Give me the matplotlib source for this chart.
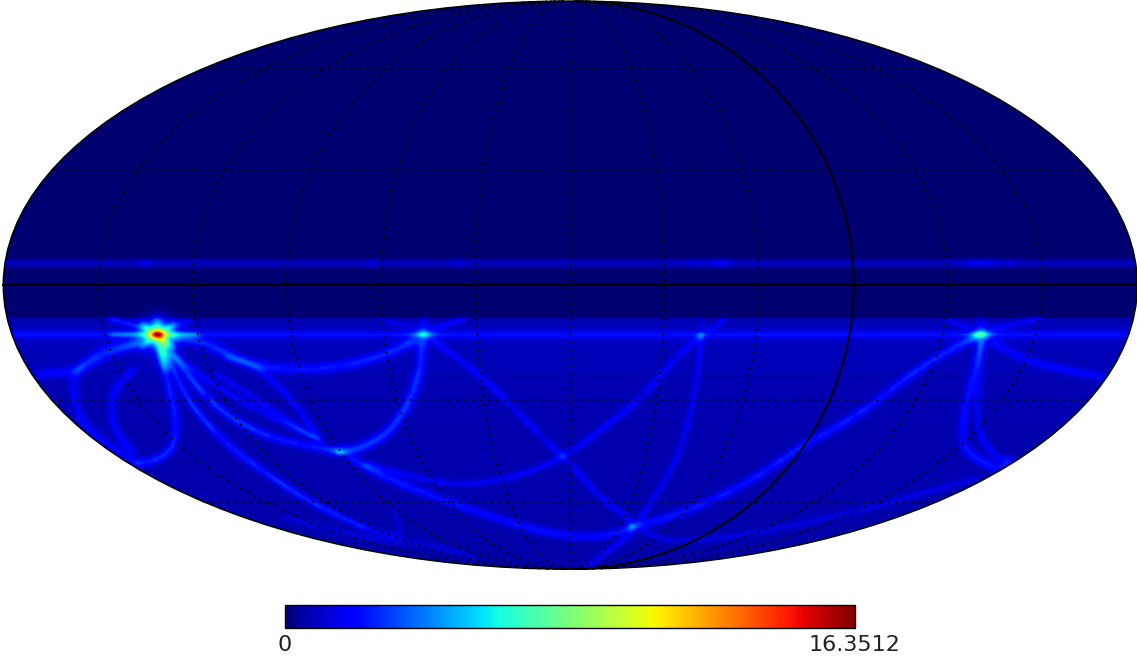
import numpy as np
import matplotlib
matplotlib.use("Agg")
import matplotlib.pyplot as plt
from matplotlib.patches import Ellipse
from matplotlib.colors import Normalize, LinearSegmentedColormap
from matplotlib.cm import ScalarMappable

VMIN = 0.0
VMAX = 16.3512
CBAR_LABELS = ["0", "16.3512"]

# map geometry in reference pixels
CX, CY, RX, RY = 569.8, 284.6, 567.0, 284.0

# row profile: image row, background value
ROW_Y = [0, 257, 259, 263, 266, 269, 317, 318, 326, 330, 334, 338, 346, 420, 568]
ROW_V = [0.0, 0.0, 0.5, 0.95, 0.5, 0.0, 0.0, 0.7, 0.85, 1.2, 2.4, 1.2, 0.8, 0.7, 0.6]

# hot spots: x, y, peak, sigma x, sigma y
SPOTS_X = [157, 157, 157, 423, 423, 701, 981, 981, 340, 340, 632, 145, 372, 458, 700, 722, 980, 1010]
SPOTS_Y = [334, 334, 334, 334, 334, 335, 334, 334, 452, 449, 526, 263, 263, 263, 263, 263, 263, 263]
SPOTS_A = [5.5, 6.0, 2.0, 2.6, 1.2, 1.2, 3.4, 1.2, 2.0, 1.0, 1.2, 0.7, 0.5, 0.5, 0.5, 0.9, 0.9, 0.5]
SPOTS_SX = [5.0, 8.5, 14.0, 5.0, 9.0, 3.0, 5.5, 9.0, 4.0, 9.0, 3.5, 4.0, 5.0, 5.0, 14.0, 6.0, 14.0, 3.0]
SPOTS_SY = [3.0, 6.5, 12.0, 2.8, 7.0, 2.5, 3.2, 7.0, 2.2, 4.0, 2.5, 3.0, 3.0, 3.0, 3.0, 3.0, 3.0, 3.0]

# faint arcs: peak value, width, then the points they pass through
ARCS = [
    (1.6, 3.0, [(160, 337), (182, 367), (207, 397), (236, 420), (273, 437), (316, 447), (340, 451)]),
    (1.0, 2.5, [(171, 353), (218, 387), (273, 417), (320, 440)]),
    (0.8, 2.5, [(215, 373), (262, 403), (313, 437)]),
    (0.9, 2.7, [(225, 357), (255, 367), (291, 400), (320, 440)]),
    (1.5, 3.6, [(415, 340), (375, 357), (327, 367), (284, 368), (247, 362), (204, 343), (171, 337)]),
    (1.7, 3.6, [(422, 340), (418, 373), (405, 407), (385, 433), (360, 447), (342, 452)]),
    (1.1, 3.6, [(145, 340), (109, 353), (73, 370), (36, 373)]),
    (0.9, 3.6, [(138, 343), (102, 350), (76, 373), (75, 400), (87, 427), (120, 453), (138, 463)]),
    (1.5, 3.2, [(160, 347), (167, 380), (175, 420), (171, 447), (153, 460), (135, 463)]),
    (0.9, 3.2, [(135, 367), (116, 387), (111, 413), (120, 437), (135, 453)]),
    (0.9, 2.7, [(162, 345), (182, 387), (204, 420), (233, 450), (276, 480), (313, 503), (364, 527), (400, 537)]),
    (1.4, 3.1, [(349, 457), (378, 473), (418, 490), (473, 510), (527, 527), (570, 535), (603, 535),
                (632, 527), (694, 507), (749, 480), (800, 447), (858, 413), (912, 373), (949, 350), (978, 335)]),
    (0.9, 2.7, [(364, 463), (400, 473), (455, 483), (509, 477), (560, 457), (603, 427), (640, 397), (676, 357), (701, 335)]),
    (0.9, 2.7, [(433, 340), (473, 370), (509, 403), (545, 440), (570, 463), (596, 493), (632, 527), (603, 553), (585, 568)]),
    (0.8, 2.5, [(701, 337), (694, 390), (680, 447), (658, 490), (636, 523)]),
    (1.3, 3.4, [(981, 340), (971, 383), (962, 427), (967, 450), (996, 467), (1011, 460)]),
    (0.9, 2.7, [(981, 340), (978, 390), (978, 427), (992, 453), (1007, 460)]),
    (1.0, 3.2, [(992, 342), (1029, 360), (1069, 370), (1105, 377)]),
    (0.7, 2.5, [(640, 530), (676, 540), (749, 533), (858, 510), (931, 490), (978, 477)]),
    (0.5, 2.5, [(393, 507), (400, 533)]),
    (0.7, 2.5, [(165, 350), (193, 407), (254, 463), (309, 500), (364, 527)]),
    (0.6, 2.5, [(284, 517), (364, 537), (418, 543), (473, 557)]),
    (1.4, 2.0, [(109, 318), (145, 328)]),
    (0.9, 2.2, [(167, 328), (189, 320)]),
    (0.7, 2.2, [(407, 325), (382, 320)]),
    (0.9, 2.2, [(433, 328), (465, 318)]),
    (0.8, 2.0, [(709, 330), (725, 319)]),
    (0.7, 2.0, [(967, 327), (945, 319)]),
    (0.9, 2.2, [(992, 328), (1040, 318)]),
    (2.4, 4.0, [(157, 318), (157, 327)]),
    (0.8, 3.0, [(423, 318), (423, 330)]),
    (0.6, 2.5, [(701, 318), (701, 331)]),
    (0.8, 3.0, [(981, 318), (981, 330)]),
    (1.6, 2.6, [(110, 334), (146, 334)]),
    (1.6, 2.6, [(168, 334), (198, 334)]),
    (1.5, 2.6, [(140, 322), (150, 329)]),
    (1.5, 2.6, [(164, 340), (175, 348)]),
    (1.2, 2.6, [(175, 322), (165, 329)]),
    (1.2, 2.6, [(150, 339), (140, 348)]),
    (2.4, 4.0, [(158, 342), (165, 368)]),
]

PARALLELS = [-60, -30, 30, 60]
MERIDIANS = [-150, -120, -90, -60, -30, 0, 30, 60, 120, 150]
SOLID_MERIDIAN = 90


def catmull(pts, n=200):
    p = np.asarray(pts, float)
    if len(p) < 3:
        t = np.linspace(0, 1, n)[:, None]
        return p[0] + (p[1] - p[0]) * t
    p = np.vstack([2 * p[0] - p[1], p, 2 * p[-1] - p[-2]])
    out = []
    for i in range(1, len(p) - 2):
        t = np.linspace(0, 1, n)[:, None]
        a, b, c, d = p[i - 1], p[i], p[i + 1], p[i + 2]
        out.append(0.5 * (2 * b + (c - a) * t + (2 * a - 5 * b + 4 * c - d) * t ** 2
                          + (3 * b - a - 3 * c + d) * t ** 3))
    return np.vstack(out)


W, H = 1137, 661
yy, xx = np.mgrid[0:H, 0:W]
field = np.interp(yy, ROW_Y, ROW_V)

fy = np.fft.fftfreq(H)[:, None]
fx = np.fft.rfftfreq(W)[None, :]
for amp, sig, pts in ARCS:
    q = np.rint(catmull(pts)).astype(int)
    ok = (q[:, 0] >= 0) & (q[:, 0] < W) & (q[:, 1] >= 0) & (q[:, 1] < H)
    layer = np.zeros((H, W))
    layer[q[ok, 1], q[ok, 0]] = amp
    kernel = np.exp(-2 * (np.pi * sig) ** 2 * (fx ** 2 + fy ** 2))
    blurred = np.fft.irfft2(np.fft.rfft2(layer) * kernel, s=(H, W))
    field = field + np.clip(blurred, 0, None) * np.sqrt(2 * np.pi) * sig

for x0, y0, a, sx, sy in zip(SPOTS_X, SPOTS_Y, SPOTS_A, SPOTS_SX, SPOTS_SY):
    field = field + a * np.exp(-((xx - x0) ** 2 / (2 * sx ** 2) + (yy - y0) ** 2 / (2 * sy ** 2)))

base = plt.get_cmap("jet")(np.linspace(0, 1, 256))
base[0:8, 2] = np.linspace(0.44, base[8, 2], 8)
cmap = LinearSegmentedColormap.from_list("jet_dark", base, N=256)

fig = plt.figure(figsize=(W / 100, H / 100), dpi=100)
ax = fig.add_axes([0, 0, 1, 1])
norm = Normalize(VMIN, VMAX)
im = ax.imshow(field, cmap=cmap, norm=norm, extent=(-0.5, W - 0.5, H - 0.5, -0.5),
               interpolation="bilinear", aspect="auto")
clip = Ellipse((CX, CY), 2 * RX, 2 * RY, transform=ax.transData)
im.set_clip_path(clip)
ax.add_patch(Ellipse((CX, CY), 2 * RX, 2 * RY, fill=False, ec="black", lw=1.1))


def theta_of(lat):
    phi = np.radians(lat)
    th = np.array(phi, float)
    for _ in range(50):
        th = th - (2 * th + np.sin(2 * th) - np.pi * np.sin(phi)) / (2 + 2 * np.cos(2 * th) + 1e-9)
    return th


def project(lon, lat):
    th = theta_of(lat)
    return CX + RX * np.asarray(lon) / 180.0 * np.cos(th), CY - RY * np.sin(th)


dots = (0, (1.0, 3.0))
dot_lw = 1.4
lats = np.linspace(-89.9, 89.9, 400)
for m in MERIDIANS:
    px, py = project(np.full_like(lats, m), lats)
    ax.plot(px, py, color="k", lw=dot_lw, ls=dots)
px, py = project(np.full_like(lats, SOLID_MERIDIAN), lats)
ax.plot(px, py, color="k", lw=1.4)
lons = np.linspace(-180, 180, 400)
for p in PARALLELS:
    px, py = project(lons, np.full_like(lons, float(p)))
    ax.plot(px, py, color="k", lw=dot_lw, ls=dots)
px, py = project(lons, np.zeros_like(lons))
ax.plot(px, py, color="k", lw=1.4)

ax.set_xlim(-0.5, W - 0.5)
ax.set_ylim(H - 0.5, -0.5)
ax.axis("off")

cax = fig.add_axes([285 / W, 1 - 628 / H, 570 / W, 23 / H])
cb = fig.colorbar(ScalarMappable(norm=norm, cmap=cmap), cax=cax, orientation="horizontal")
cb.set_ticks([VMIN, VMAX])
cb.set_ticklabels(CBAR_LABELS)
cb.ax.tick_params(length=0, labelsize=16, pad=5, labelcolor="#222222")
cb.outline.set_linewidth(1.0)

fig.savefig("out.png", dpi=100)
